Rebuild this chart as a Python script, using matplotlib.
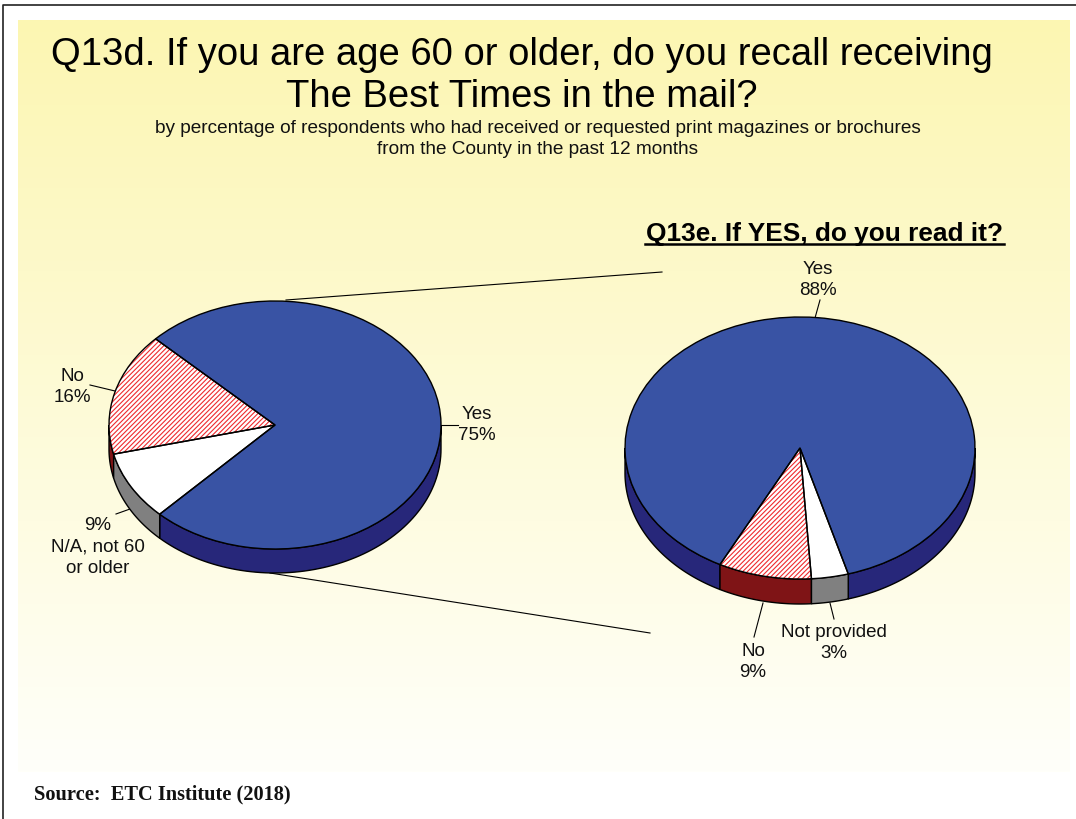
import numpy as np
import matplotlib
matplotlib.use('Agg')
import matplotlib.pyplot as plt

plt.rcParams['font.family'] = ['Liberation Sans', 'DejaVu Sans']
plt.rcParams['hatch.linewidth'] = 0.8

title_lines = ['Q13d. If you are age 60 or older, do you recall receiving', 'The Best Times in the mail?']
subtitle = 'by percentage of respondents who had received or requested print magazines or brochures\nfrom the County in the past 12 months'
right_title = 'Q13e. If YES, do you read it?'
source = 'Source:  ETC Institute (2018)'

left_values = [75, 16, 9]
left_names = ['Yes', 'No', 'N/A']
right_values = [88, 8.6, 3.4]
right_names = ['Yes', 'No', 'Not provided']

W, H = 1076, 819
BLUE = '#3953A4'
BLUE_D = '#27277A'
RED_D = '#7F1416'
GREY = '#808080'
HATCH_RED = '#EE2A2E'

fig = plt.figure(figsize=(W / 100, H / 100), dpi=100, facecolor='white')

# background in pixel coordinates
bg = fig.add_axes([0, 0, 1, 1])
bg.set_xlim(0, W)
bg.set_ylim(H, 0)
bg.axis('off')

top_col = np.array([252, 246, 178]) / 255
bot_col = np.array([255, 255, 250]) / 255
t = np.linspace(0, 1, 256)[:, None, None]
grad = top_col * (1 - t) + bot_col * t
bg.imshow(grad, extent=(18, 1070, 772, 20), aspect='auto', zorder=0)
bg.set_xlim(0, W)
bg.set_ylim(H, 0)

# frame, only top and left
bg.plot([3, 3, W], [H, 5, 5], color='#222222', lw=1.2, zorder=1)


def pie3d(box, values, start, depth_px, wall_colors, top_colors):
    # box = left, top, width, height of the top ellipse in pixels
    x0, y0, w, h = box
    ax = fig.add_axes([x0 / W, 1 - (y0 + h + depth_px) / H, w / W, (h + depth_px) / H])
    depth = depth_px / (h / 2)

    edges = start + 3.6 * np.concatenate([[0], np.cumsum(values)])
    for i in range(len(values)):
        for off in (0, 360):
            a = max(edges[i], 180 + off)
            b = min(edges[i + 1], 360 + off)
            if b <= a:
                continue
            th = np.radians(np.linspace(a, b, 80))
            xs = np.cos(th)
            ys = np.sin(th)
            ax.fill(np.r_[xs, xs[::-1]], np.r_[ys, ys[::-1] - depth],
                    facecolor=wall_colors[i], edgecolor='black', lw=1.0, zorder=1)

    # colour and hatch first, black outlines on top
    hatches = [None, '///////', None]
    wedges, _ = ax.pie(values, colors=top_colors, startangle=start, radius=1,
                       hatch=hatches, wedgeprops={'linewidth': 0})
    wedges[1].set_edgecolor(HATCH_RED)
    wedges[1].set_linewidth(0)
    for wd in wedges:
        wd.set_zorder(2)
    outl, _ = ax.pie(values, colors=['none'] * 3, startangle=start, radius=1,
                     wedgeprops={'linewidth': 1.0, 'edgecolor': 'black'})
    for wd in outl:
        wd.set_zorder(3)
    ax.set_aspect('auto')
    ax.set_xlim(-1, 1)
    ax.set_ylim(-1 - depth, 1)
    ax.patch.set_alpha(0)
    for art in ax.get_children():
        art.set_clip_on(False)
    return ax


ax1 = pie3d((109, 301, 332, 248), left_values, 226, 24,
            [BLUE_D, RED_D, GREY], [BLUE, 'white', 'white'])
ax2 = pie3d((625, 317, 350, 262), right_values, 286, 25,
            [BLUE_D, RED_D, GREY], [BLUE, 'white', 'white'])

# lines between the two pies and label leaders
for xs, ys in [([286, 662], [300, 272]), ([270, 650], [573, 633]),
               ([441, 458], [425, 425]), ([90, 115], [385, 391]),
               ([116, 130], [514, 509]), ([820, 815], [300, 318]),
               ([763, 754], [603, 637]), ([830, 834], [603, 619])]:
    bg.plot(xs, ys, color='black', lw=0.8, zorder=2)

# text
bg.text(522, 55, title_lines[0], fontsize=27.5, ha='center', va='center', color='black')
bg.text(522, 97, title_lines[1], fontsize=27.5, ha='center', va='center', color='black')
bg.text(537.5, 139, subtitle, fontsize=13.72, ha='center', va='center', color='#111111', linespacing=1.3)
bg.text(824, 234, right_title, fontsize=18.9, fontweight='bold', ha='center', va='center', color='black')
bg.plot([645, 1004], [244, 244], color='black', lw=1.8, zorder=2)
bg.text(34, 794, source, fontsize=14.7, fontweight='bold', family=['Liberation Serif', 'DejaVu Serif'],
        ha='left', va='center', color='#111111')

for x, y, txt in [(477, 425, 'Yes\n75%'), (72, 387, 'No\n16%'),
                  (98, 547, '9%\nN/A, not 60\nor older'),
                  (818, 280, 'Yes\n88%'), (753, 662, 'No\n9%'),
                  (833.5, 643, 'Not provided\n3%')]:
    bg.text(x, y, txt, fontsize=13.5, ha='center', va='center', color='#111111', linespacing=1.35)

fig.savefig('out.png', dpi=100)
